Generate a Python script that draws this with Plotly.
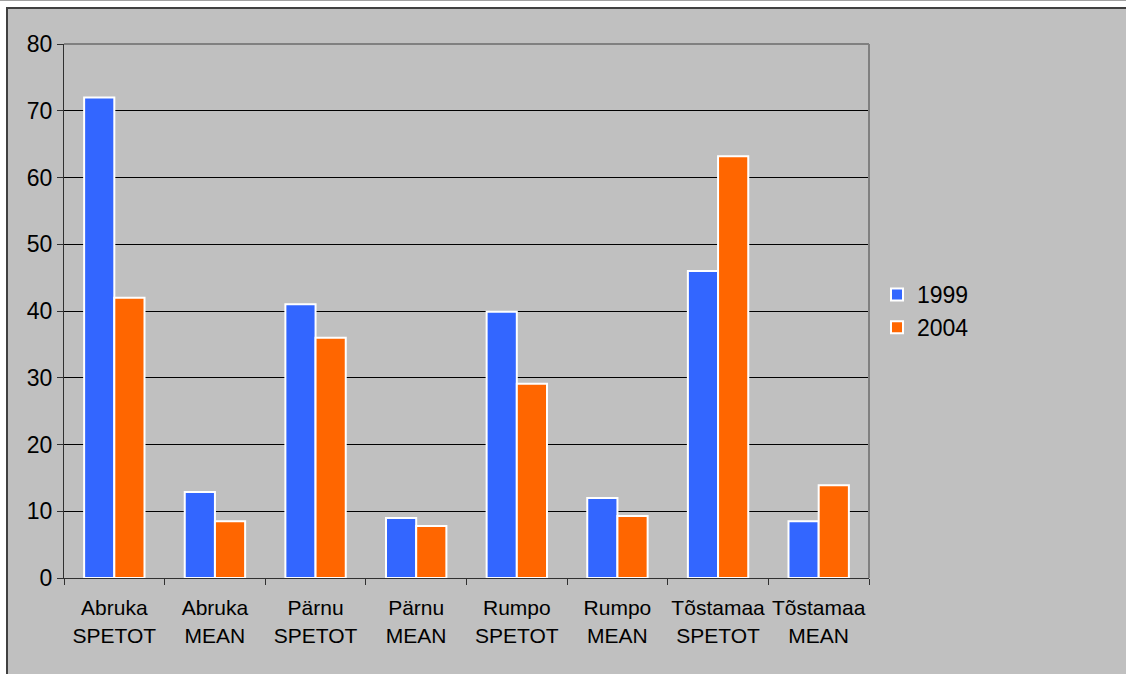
import plotly.graph_objects as go

categories = ["Abruka<br>SPETOT", "Abruka<br>MEAN", "Pärnu<br>SPETOT", "Pärnu<br>MEAN",
              "Rumpo<br>SPETOT", "Rumpo<br>MEAN", "Tõstamaa<br>SPETOT", "Tõstamaa<br>MEAN"]
values_1999 = [72, 12.9, 41, 9.0, 39.9, 12.0, 46, 8.5]
values_2004 = [42, 8.5, 36, 7.8, 29.1, 9.3, 63.2, 13.9]
series_names = ["1999", "2004"]
y_ticks = [0, 10, 20, 30, 40, 50, 60, 70, 80]

W, H = 1126, 674
L, R, T, B = 64, 257, 44, 96
pw, ph = W - L - R, H - T - B

def px_x(p):
    return (p - L) / pw

def px_y(p):
    return (H - B - p) / ph

fig = go.Figure()
fig.add_trace(go.Bar(x=categories, y=values_1999, name=series_names[0],
                     marker=dict(color="#3366FF", line=dict(color="white", width=2))))
fig.add_trace(go.Bar(x=categories, y=values_2004, name=series_names[1],
                     marker=dict(color="#FF6600", line=dict(color="white", width=2))))

font = "Liberation Sans, Arial, sans-serif"

fig.update_layout(
    width=W, height=H,
    margin=dict(l=L, r=R, t=T, b=B, pad=0, autoexpand=False),
    paper_bgcolor="white",
    plot_bgcolor="#C0C0C0",
    barmode="group",
    bargap=0.4,
    bargroupgap=0,
    font=dict(family=font, color="black", size=21),
    showlegend=True,
    legend=dict(x=px_x(877), y=px_y(311), xanchor="left", yanchor="middle",
                bgcolor="rgba(0,0,0,0)", font=dict(size=23, family=font),
                itemwidth=30, tracegroupgap=0),
    xaxis=dict(showgrid=False, showline=True, linecolor="#303030", linewidth=1,
               ticks="outside", tickson="boundaries", ticklen=6, tickcolor="#303030",
               tickangle=0, automargin=False, ticklabelstandoff=11,
               tickfont=dict(size=21, family=font), fixedrange=True),
    yaxis=dict(range=[0, 80], tickvals=y_ticks, showgrid=True, gridcolor="black", gridwidth=1,
               showline=True, linecolor="#303030", linewidth=1, ticks="outside", ticklen=6,
               tickcolor="#303030", tickfont=dict(size=23, family=font), zeroline=False,
               automargin=False, fixedrange=True),
    shapes=[
        dict(type="rect", xref="paper", yref="paper", x0=px_x(7), x1=px_x(1140),
             y0=px_y(690), y1=px_y(8), fillcolor="#C0C0C0",
             line=dict(color="#404040", width=2), layer="below"),
        dict(type="line", xref="paper", yref="paper", x0=px_x(0), x1=px_x(1126),
             y0=px_y(0.5), y1=px_y(0.5), line=dict(color="#A0A0A0", width=1)),
        dict(type="line", xref="paper", yref="paper", x0=0, x1=1, y0=1, y1=1,
             line=dict(color="#808080", width=2), layer="above"),
        dict(type="line", xref="paper", yref="paper", x0=1, x1=1, y0=0, y1=1,
             line=dict(color="#808080", width=2), layer="above"),
    ],
)

fig.write_html("out.html", config={"displayModeBar": False},
               post_script="document.body.style.margin='0';document.body.style.overflow='hidden';")
